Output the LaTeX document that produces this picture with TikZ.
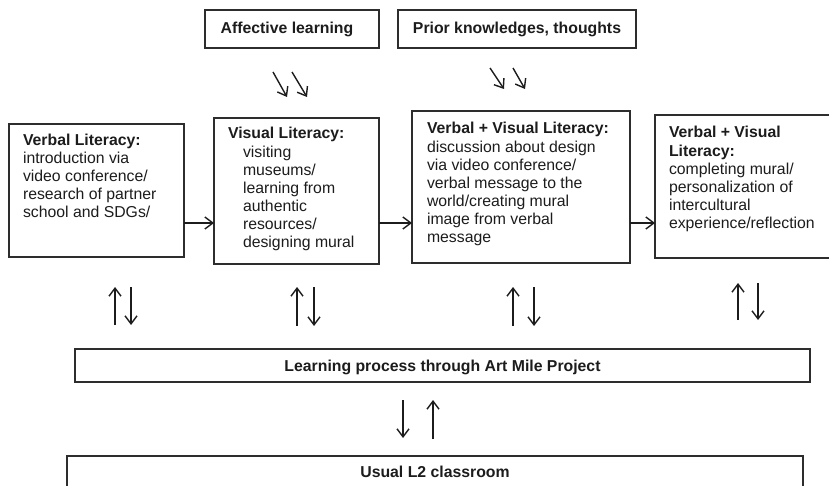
\documentclass[tikz,border=0pt]{standalone}
\usepackage{fontspec}
\setmainfont{Liberation Sans}
\usetikzlibrary{arrows.meta,calc}
\definecolor{ink}{RGB}{28,28,28}
\definecolor{frame}{RGB}{45,45,45}
\begin{document}
\begin{tikzpicture}[x=1pt,y=-1pt,
  box/.style={draw=frame,line width=1.4pt,inner sep=0pt,outer sep=0pt,anchor=north west},
  heavybox/.style={box,line width=2.8pt},
  txt/.style={inner sep=0pt,outer sep=0pt,anchor=north west,align=left,text=ink,
    font=\fontsize{15.8}{18.1}\selectfont},
  head/.style={inner sep=0pt,outer sep=0pt,text=ink,font=\fontsize{15.8}{18}\selectfont\bfseries},
  arr/.style={draw=ink,line width=1.4pt,
    -{Straight Barb[length=8pt,width=12pt,line width=1.4pt]}}]
\useasboundingbox (0,0) rectangle (829,486);
\clip (0,0) rectangle (829,486);

% influences from above
\node[box,minimum width=174pt,minimum height=38pt] (aff) at (205,10) {};
\node[head] (afft) at ($(aff.center)+(-5,0)$) {Affective learning};
\node[box,minimum width=238pt,minimum height=38pt] (pri) at (398,10) {};
\node[head] (prit) at (pri.center) {Prior knowledges, thoughts};

% the four literacy stages
\node[box,minimum width=175pt,minimum height=133pt] (s1) at (9,124) {};
\node[txt] (s1t) at ($(s1.north west)+(14,10)$)
  {\textbf{Verbal Literacy:}\\introduction via\\video conference/\\research of partner\\school and SDGs/};

\node[box,minimum width=165pt,minimum height=146pt] (s2) at (214,118) {};
\node[txt] (s2t) at ($(s2.north west)+(14,9.5)$)
  {\textbf{Visual Literacy:}\\\hspace*{15pt}visiting\\\hspace*{15pt}museums/\\\hspace*{15pt}learning from\\\hspace*{15pt}authentic\\\hspace*{15pt}resources/\\\hspace*{15pt}designing mural};

\node[heavybox,minimum width=218pt,minimum height=152pt] (s3) at (412,111) {};
\node[txt] (s3t) at ($(s3.north west)+(15,11.5)$)
  {\textbf{Verbal + Visual Literacy:}\\discussion about design\\via video conference/\\verbal message to the\\world/creating mural\\image from verbal\\message};

\node[heavybox,minimum width=185pt,minimum height=143pt] (s4) at (655,115) {};
\node[txt] (s4t) at ($(s4.north west)+(14,11.5)$)
  {\textbf{Verbal + Visual}\\\textbf{Literacy:}\\completing mural/\\personalization of\\intercultural\\experience/reflection};

% frame of the project and the classroom
\node[box,minimum width=735pt,minimum height=33pt] (proj) at (75,349) {};
\node[head] (projt) at ($(proj.center)+(0,2)$) {Learning process through Art Mile Project};
\node[box,minimum width=736pt,minimum height=60pt] (room) at (67,456) {};
\node[head] (roomt) at ($(room.north)+(0,16)$) {Usual L2 classroom};

% sequence between the stages
\coordinate (row) at (0,223);
\draw[arr] (s1.east |- row) -- (s2.west |- row);
\draw[arr] (s2.east |- row) -- (s3.west |- row);
\draw[arr] (s3.east |- row) -- (s4.west |- row);

% diagonal inputs
\coordinate (a1s) at (273,72); \coordinate (a1e) at (287,97);
\coordinate (a2s) at (292,72); \coordinate (a2e) at (307,97);
\coordinate (p1s) at (490,68); \coordinate (p1e) at (504,89);
\coordinate (p2s) at (513,68); \coordinate (p2e) at (525,89);
\draw[arr] (a1s) -- (a1e);
\draw[arr] (a2s) -- (a2e);
\draw[arr] (p1s) -- (p1e);
\draw[arr] (p2s) -- (p2e);

% exchanges between each stage and the project
\foreach \n/\u/\d/\t/\b in {1/115/131/287/325, 2/297/314/287/326, 3/513/534/287/326, 4/738/758/283/320}{
  \coordinate (up\n b) at (\u,\b); \coordinate (up\n t) at (\u,\t);
  \coordinate (dn\n t) at (\d,\t); \coordinate (dn\n b) at (\d,\b);
  \draw[arr] (up\n b) -- (up\n t);
  \draw[arr] (dn\n t) -- (dn\n b);
}

% exchange between the project and the classroom
\coordinate (d5t) at (403,400); \coordinate (d5b) at (403,438);
\coordinate (u5b) at (433,439); \coordinate (u5t) at (433,400);
\draw[arr] (d5t) -- (d5b);
\draw[arr] (u5b) -- (u5t);
\end{tikzpicture}
\end{document}
